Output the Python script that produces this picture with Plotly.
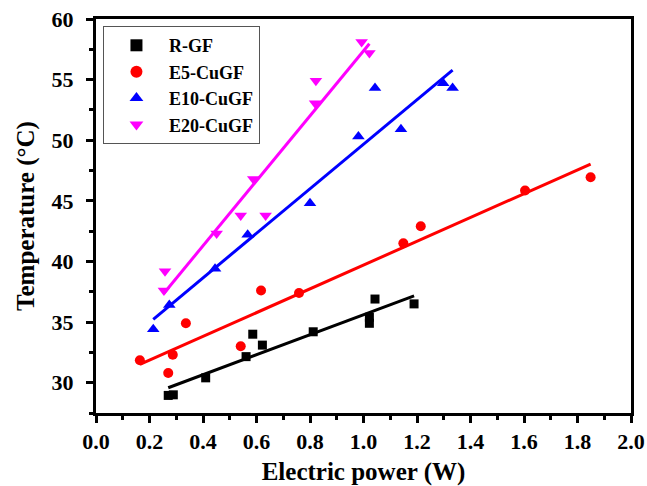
import numpy as np
import plotly.graph_objects as go

names = ["R-GF", "E5-CuGF", "E10-CuGF", "E20-CuGF"]
colors = ["#000000", "#ff0000", "#0000ff", "#ff00ff"]
symbols = ["square", "circle", "triangle-up", "triangle-down"]
sizes = [9, 10, 11, 11]

rgf_x = [0.270, 0.289, 0.41, 0.561, 0.586, 0.622, 0.812, 1.022, 1.022, 1.043, 1.189]
rgf_y = [28.95, 29.0, 30.4, 32.15, 34.0, 33.1, 34.2, 35.4, 34.9, 36.9, 36.5]

e5_x = [0.164, 0.27, 0.287, 0.336, 0.541, 0.617, 0.759, 1.149, 1.214, 1.604, 1.849]
e5_y = [31.85, 30.8, 32.3, 34.9, 33.0, 37.6, 37.4, 41.5, 42.9, 45.85, 46.95]

e10_x = [0.214, 0.274, 0.445, 0.567, 0.80, 0.981, 1.043, 1.14, 1.298, 1.333]
e10_y = [34.4, 36.4, 39.4, 42.2, 44.8, 50.3, 54.3, 50.9, 54.7, 54.3]

e20_x = [0.258, 0.254, 0.451, 0.541, 0.588, 0.634, 0.819, 0.822, 0.993, 1.022]
e20_y = [39.2, 37.6, 42.3, 43.8, 46.8, 43.8, 53.05, 54.9, 58.1, 57.2]

series = [(rgf_x, rgf_y), (e5_x, e5_y), (e10_x, e10_y), (e20_x, e20_y)]

fig = go.Figure()
for (xs, ys), nm, c, s in zip(series, names, colors, symbols):
    xa = np.array(xs); ya = np.array(ys)
    k, b = np.polyfit(xa, ya, 1)
    xl = np.array([xa.min(), xa.max()])
    fig.add_trace(go.Scatter(x=xl, y=k * xl + b, mode="lines",
                             line=dict(color=c, width=3), showlegend=False,
                             hoverinfo="skip"))
for (xs, ys), nm, c, s, sz in zip(series, names, colors, symbols, sizes):
    fig.add_trace(go.Scatter(x=xs, y=ys, mode="markers", name=nm,
                             marker=dict(symbol=s, color=c, size=sz,
                                         line=dict(width=0))))

font_fam = "Liberation Serif"
axis_common = dict(showline=True, linecolor="black", linewidth=3, mirror=True,
                   ticks="outside", tickwidth=3, ticklen=7, tickcolor="black",
                   showgrid=False, zeroline=False, automargin=False,
                   ticklabeloverflow="allow",
                   tickfont=dict(family=font_fam, size=22, color="black", weight="bold"))

fig.update_layout(
    width=647, height=486,
    margin=dict(l=96, r=16, t=19, b=73),
    paper_bgcolor="white", plot_bgcolor="white",
    font=dict(family=font_fam, color="black"),
    xaxis=dict(range=[0, 2.0], dtick=0.2, tickformat=".1f",
               minor=dict(dtick=0.1, ticks="outside", ticklen=4, tickwidth=3, tickcolor="black"),
               title=dict(text="Electric power (W)", standoff=16,
                          font=dict(family=font_fam, size=25, color="black", weight="bold")),
               **axis_common),
    yaxis=dict(range=[27.5, 60], tick0=30, dtick=5, ticklabelstandoff=8,
               minor=dict(dtick=2.5, ticks="outside", ticklen=4, tickwidth=3, tickcolor="black"),
               title=dict(text="Temperature (°C)", standoff=10,
                          font=dict(family=font_fam, size=25, color="black", weight="bold")),
               **axis_common),
    legend=dict(x=0.013, y=0.982, xanchor="left", yanchor="top",
                bgcolor="white", bordercolor="#555555", borderwidth=1,
                font=dict(family=font_fam, size=18, color="black", weight="bold"),
                itemsizing="constant", itemwidth=55, tracegroupgap=0),
)

fig.write_html("out.html", config={"displayModeBar": False},
               post_script="document.body.style.margin='0';document.body.style.overflow='hidden';")
